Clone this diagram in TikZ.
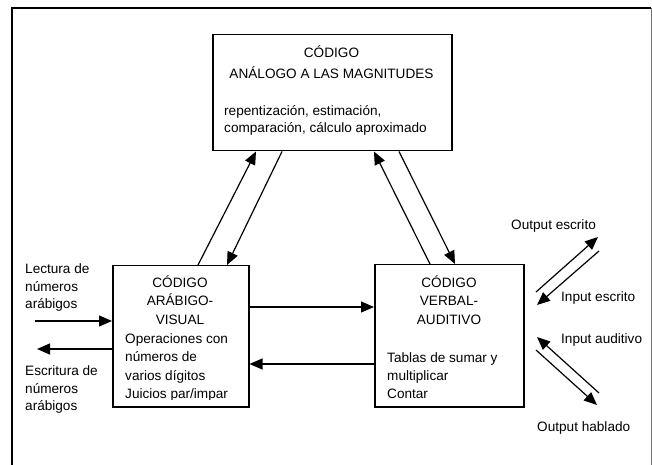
\documentclass[tikz,border=0pt]{standalone}
\usepackage{fontspec}
\setmainfont{Liberation Sans}
\usetikzlibrary{arrows.meta,calc}
\begin{document}
\begin{tikzpicture}[x=1bp,y=-1bp,
  box/.style={draw,line width=1.5bp,inner sep=0pt,anchor=north west},
  arr/.style={line width=1.2bp,-{Triangle[length=13bp,width=11bp]}},
  t/.style={inner sep=0pt,font=\fontsize{13.6bp}{17bp}\selectfont},
  tw/.style={t,anchor=base west},
  tc/.style={t,anchor=base}]
\useasboundingbox (0,0) rectangle (652,465);
% outer frame (open at the bottom)
\draw[line width=1.5bp] (12,465) -- (12,8) -- (651,8);
\draw[line width=0.8bp,black!55] (651,8) -- (651,465);

% boxes
\node[box,minimum width=239bp,minimum height=116bp] (top) at (212,34) {};
\node[box,minimum width=136bp,minimum height=141bp] (left) at (112,265) {};
\node[box,minimum width=149bp,minimum height=142bp] (right) at (374,264) {};

% top box text
\node[tc] (t1) at (331.5,58) {CÓDIGO};
\node[tc] (t2) at (331.5,79) {ANÁLOGO A LAS MAGNITUDES};
\node[tw] (t3) at (224,116) {repentización, estimación,};
\node[tw] (t4) at (224,133) {comparación, cálculo aproximado};

% left box text
\node[tc] (l1) at (180,287.5) {CÓDIGO};
\node[tc] (l2) at (180,306) {ARÁBIGO-};
\node[tc] (l3) at (180,324.5) {VISUAL};
\node[tw] (l4) at (125,343) {Operaciones con};
\node[tw] (l5) at (125,361.5) {números de};
\node[tw] (l6) at (125,380) {varios dígitos};
\begin{scope}
  \clip (113,385) rectangle (247,399);
  \node[tw] (l7) at (125,398.5) {Juicios par/impar};
\end{scope}

% right box text
\node[tc] (r1) at (449,287.5) {CÓDIGO};
\node[tc] (r2) at (449,306) {VERBAL-};
\node[tc] (r3) at (449,324.5) {AUDITIVO};
\node[tw] (r4) at (387,362) {Tablas de sumar y};
\node[tw] (r5) at (387,380) {multiplicar};
\node[tw] (r6) at (387,398.5) {Contar};

% outside labels
\node[tw] (e1) at (25,273.5) {Lectura de};
\node[tw] (e2) at (25,291.5) {números};
\node[tw] (e3) at (25,309) {arábigos};
\node[tw] (e4) at (25,375) {Escritura de};
\node[tw] (e5) at (25,393) {números};
\node[tw] (e6) at (25,410.5) {arábigos};
\node[tw] (o1) at (511,229.5) {Output escrito};
\node[tw] (o2) at (561,301.5) {Input escrito};
\node[tw] (o3) at (561,343) {Input auditivo};
\node[tw] (o4) at (537,431.5) {Output hablado};

% connectors between the code boxes
\draw[arr] ($(left.north west)+(86,0)$) -- ($(top.south west)+(44,0)$);
\draw[arr] ($(top.south west)+(70,0)$) -- ($(left.north west)+(115,0)$);
\draw[arr] ($(right.north west)+(56,0)$) -- ($(top.south west)+(162,0)$);
\draw[arr] ($(top.south west)+(187,0)$) -- ($(right.north west)+(81,0)$);
\draw[arr] ($(left.north east)+(0,42)$) -- ($(right.north west)+(0,43)$);
\draw[arr] ($(right.north west)+(0,100)$) -- ($(left.north east)+(0,99)$);

% external input/output arrows
\coordinate (lin) at (35,321);
\coordinate (lout) at (37,349);
\draw[arr] (lin) -- ($(left.north west)+(0,56)$);
\draw[arr] ($(left.north west)+(0,84)$) -- (lout);

\coordinate (oe1) at (536,292);
\coordinate (oe2) at (598,237);
\coordinate (ie1) at (599,251);
\coordinate (ie2) at (537,305);
\coordinate (ia1) at (599,393);
\coordinate (ia2) at (537,337);
\coordinate (oh1) at (536,350);
\coordinate (oh2) at (597,405);
\draw[arr] (oe1) -- (oe2);
\draw[arr] (ie1) -- (ie2);
\draw[arr] (ia1) -- (ia2);
\draw[arr] (oh1) -- (oh2);
\end{tikzpicture}
\end{document}
